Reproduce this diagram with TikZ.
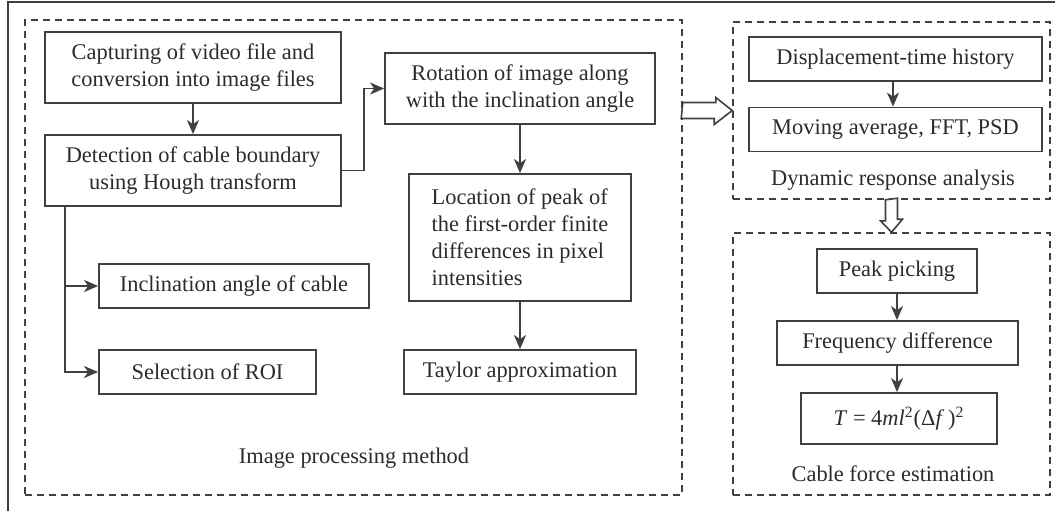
\documentclass[tikz,border=0pt]{standalone}
\usepackage{fontspec}
\setmainfont{Liberation Serif}
\usetikzlibrary{arrows.meta}
\definecolor{ink}{HTML}{2B2B2B}
\definecolor{rule}{HTML}{404040}
\tikzset{
  box/.style={draw=rule, line width=0.9pt, inner sep=0pt, align=center,
    text=ink, font=\fontsize{11.2}{13.5}\selectfont},
  group/.style={draw=rule, line width=0.8pt, dash pattern=on 3.5pt off 2.5pt,
    inner sep=0pt},
  lbl/.style={text=ink, inner sep=0pt, font=\fontsize{11.2}{13.5}\selectfont},
  arr/.style={draw=rule, line width=0.8pt,
    -{Stealth[length=7pt, width=6pt, inset=2pt]}},
  hollow/.style={draw=rule, line width=0.8pt, fill=white, line join=miter},
}
\begin{document}
\begin{tikzpicture}[x=0.5pt, y=-0.5pt]
\useasboundingbox (0,0) rectangle (1055,511);

% outer frame (top and left edges only)
\draw[rule, line width=0.9pt] (8,511) -- (8,2) -- (1055,2);

% group frames
\node[group, minimum width=328.5pt, minimum height=237.5pt] (ipm) at (353.5,257.5) {};
\node[group, minimum width=158.5pt, minimum height=88.5pt] (dra) at (891.5,110.5) {};
\node[group, minimum width=158.5pt, minimum height=131pt] (cfe) at (891.5,364) {};

% image processing method
\node[box, minimum width=148pt, minimum height=35.5pt] (cap) at (193,67.5)
  {Capturing of video file and\\conversion into image files};
\node[box, minimum width=148pt, minimum height=35.5pt] (det) at (193,170.5)
  {Detection of cable boundary\\using Hough transform};
\node[box, minimum width=135pt, minimum height=22pt] (inc) at (234,286)
  {Inclination angle of cable};
\node[box, minimum width=108.5pt, minimum height=22pt] (roi) at (207.5,372)
  {Selection of ROI};
\node[box, minimum width=135pt, minimum height=35.5pt] (rot) at (520,88.5)
  {Rotation of image along\\with the inclination angle};
\node[box, minimum width=111pt, minimum height=63.5pt, align=left] (loc) at (520,237.5)
  {Location of peak of\\the first-order finite\\differences in pixel\\intensities};
\node[box, minimum width=116pt, minimum height=22pt] (tay) at (520,372)
  {Taylor approximation};
\node[lbl] (ipmlbl) at (354,458) {Image processing method};

% dynamic response analysis
\node[box, minimum width=146.5pt, minimum height=22pt] (disp) at (895.5,59)
  {Displacement-time history};
\node[box, minimum width=146.5pt, minimum height=22pt] (mov) at (895.5,129.5)
  {Moving average, FFT, PSD};
\node[lbl] (dralbl) at (893,180) {Dynamic response analysis};

% cable force estimation
\node[box, minimum width=80pt, minimum height=22pt] (peak) at (897,271)
  {Peak picking};
\node[box, minimum width=120.5pt, minimum height=22pt] (freq) at (897.5,343)
  {Frequency difference};
\node[box, minimum width=98pt, minimum height=25.5pt] (form) at (899,418.5)
  {\textit{T}~=~4\textit{ml}\textsuperscript{2}(Δ\textit{f}\,)\textsuperscript{2}};
\node[lbl] (cfelbl) at (893,474) {Cable force estimation};

% connectors
\draw[arr] (cap) -- (det);
\draw[arr] (det.east) -- ++(22,0) |- (rot.west);
\draw[arr] ([xshift=10.5pt]det.south west) |- (inc.west);
\draw[arr] ([xshift=10.5pt]det.south west) |- (roi.west);
\draw[arr] (rot.south) -- (rot.south |- loc.north);
\draw[arr] (rot.south |- loc.south) -- (rot.south |- tay.north);
\draw[arr] (disp.south -| dralbl) -- (mov.north -| dralbl);
\draw[arr] (peak.south) -- (peak.south |- freq.north);
\draw[arr] (peak.south |- freq.south) -- (peak.south |- form.north);

% hollow block arrows between the stages
\draw[hollow] (dra.west -| ipm.east) ++(0,-8) -- ++(33,0) -- ++(0,-5)
  -- (dra.west) -- ++(-18,14) -- ++(0,-6) -- ++(-33,0) -- cycle;
\draw[hollow] (dra.south) ++(-6,0) -- ++(0,21) -- ++(-5,0)
  -- (cfe.north) -- ++(11,-13) -- ++(-5,0) -- ++(0,-21) -- cycle;
\end{tikzpicture}
\end{document}
